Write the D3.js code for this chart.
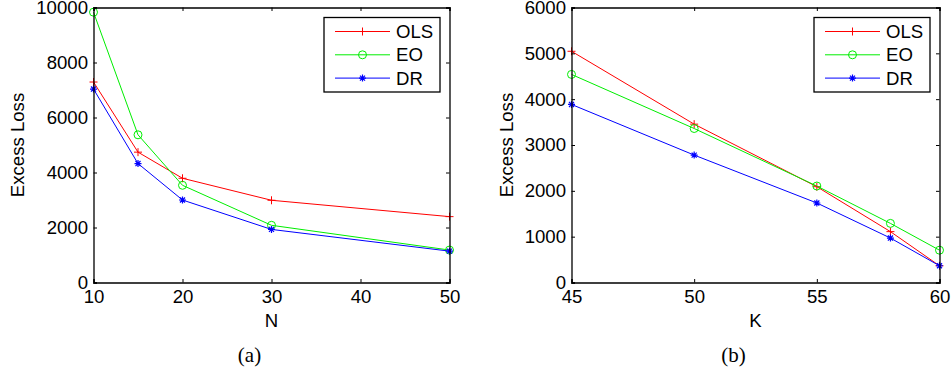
<!DOCTYPE html>
<html><head><meta charset="utf-8">
<script src="https://cdn.jsdelivr.net/npm/d3@7"></script>
<style>body{margin:0;background:#fff}svg{display:block}</style>
</head><body>
<svg id="c" width="952" height="371"></svg>
<script>
// Panel (a): varying N
const nValues = [10, 15, 20, 30, 50];
const olsA = [7290, 4740, 3790, 2990, 2395];
const eoA  = [9830, 5370, 3535, 2080, 1180];
const drA  = [7035, 4325, 3000, 1930, 1140];
const xTicksA = [10, 20, 30, 40, 50];
const yTicksA = [0, 2000, 4000, 6000, 8000, 10000];

// Panel (b): varying K
const kValues = [45, 50, 55, 58, 60];
const olsB = [5045, 3455, 2090, 1110, 365];
const eoB  = [4540, 3360, 2105, 1290, 705];
const drB  = [3885, 2780, 1735, 970, 365];
const xTicksB = [45, 50, 55, 60];
const yTicksB = [0, 1000, 2000, 3000, 4000, 5000, 6000];

const seriesNames = ["OLS", "EO", "DR"];
const seriesColors = ["#ff0000", "#00ee00", "#0000ff"];
const markers = ["plus", "circle", "star"];

const svg = d3.select("#c");
const FONT = "'Liberation Sans', Arial, Helvetica, sans-serif";
const FS = 18.6;

function drawMarker(g, type, x, y, color) {
  if (type === "plus") {
    g.append("path").attr("d", `M${x-4},${y}H${x+4}M${x},${y-4}V${y+4}`)
      .attr("stroke", color).attr("stroke-width", 1).attr("fill", "none");
  } else if (type === "circle") {
    g.append("circle").attr("cx", x).attr("cy", y).attr("r", 4)
      .attr("stroke", color).attr("stroke-width", 1).attr("fill", "none");
  } else {
    const r = 3.5, d = r * 0.72;
    g.append("path").attr("d", `M${x-r},${y}H${x+r}M${x},${y-r}V${y+r}M${x-d},${y-d}L${x+d},${y+d}M${x-d},${y+d}L${x+d},${y-d}`)
      .attr("stroke", color).attr("stroke-width", 1.2).attr("fill", "none");
  }
}

function panel(opts) {
  const {left, right, top, bottom, xDomain, yDomain, xs, ys, xTicks, yTicks, xLabel, caption, yLabelX, legendX} = opts;
  const x = d3.scaleLinear().domain(xDomain).range([left, right]);
  const y = d3.scaleLinear().domain(yDomain).range([bottom, top]);
  const g = svg.append("g");

  // data lines
  ys.forEach((vals, i) => {
    const pts = xs.map((v, j) => [x(v), y(vals[j])]);
    g.append("path").attr("d", d3.line()(pts)).attr("fill", "none")
      .attr("stroke", seriesColors[i]).attr("stroke-width", 1);
    pts.forEach(p => drawMarker(g, markers[i], p[0], p[1], seriesColors[i]));
  });

  // axes
  const ax = (s, t) => g.append("g").attr("transform", t).call(s);
  const tl = 3.5;
  const bottomAx = ax(d3.axisBottom(x).tickValues(xTicks).tickSize(-tl).tickPadding(7).tickFormat(d3.format("d")), `translate(0,${bottom})`);
  const topAx = ax(d3.axisTop(x).tickValues(xTicks).tickSize(-tl).tickFormat(""), `translate(0,${top})`);
  const leftAx = ax(d3.axisLeft(y).tickValues(yTicks).tickSize(-tl).tickPadding(5.5).tickFormat(d3.format("d")), `translate(${left},0)`);
  const rightAx = ax(d3.axisRight(y).tickValues(yTicks).tickSize(-tl).tickFormat(""), `translate(${right},0)`);
  [bottomAx, topAx, leftAx, rightAx].forEach(a => {
    a.select(".domain").attr("stroke", "#000").attr("stroke-width", 1.3);
    a.selectAll(".tick line").attr("stroke", "#000").attr("stroke-width", 1);
    a.selectAll("text").attr("font-family", FONT).attr("font-size", FS).attr("fill", "#000");
  });
  bottomAx.selectAll("text").attr("dy", "0.71em");

  // axis labels
  g.append("text").attr("x", (left + right) / 2).attr("y", 327).attr("text-anchor", "middle")
    .attr("font-family", FONT).attr("font-size", FS).text(xLabel);
  g.append("text").attr("transform", `translate(${yLabelX},${(top + bottom) / 2}) rotate(-90)`)
    .attr("text-anchor", "middle").attr("dy", "0.35em")
    .attr("font-family", FONT).attr("font-size", FS).text("Excess Loss");
  g.append("text").attr("x", (left + right) / 2 - 22).attr("y", 362).attr("text-anchor", "middle")
    .attr("font-family", "'Liberation Serif', 'Times New Roman', serif").attr("font-size", 21).text(caption);

  // legend
  const lg = g.append("g");
  lg.append("rect").attr("x", legendX).attr("y", 17.5).attr("width", 116).attr("height", 74.5)
    .attr("fill", "#fff").attr("stroke", "#000").attr("stroke-width", 1.3);
  seriesNames.forEach((name, i) => {
    const yy = 31.5 + i * 23.3;
    lg.append("line").attr("x1", legendX + 11).attr("x2", legendX + 66).attr("y1", yy).attr("y2", yy)
      .attr("stroke", seriesColors[i]).attr("stroke-width", 1);
    drawMarker(lg, markers[i], legendX + 38.5, yy, seriesColors[i]);
    lg.append("text").attr("x", legendX + 72).attr("y", yy).attr("dy", "0.35em")
      .attr("font-family", FONT).attr("font-size", FS).text(name);
  });
}

panel({left: 93.5, right: 449.5, top: 7.5, bottom: 282.5, xDomain: [10, 50], yDomain: [0, 10000],
  xs: nValues, ys: [olsA, eoA, drA], xTicks: xTicksA, yTicks: yTicksA, xLabel: "N", caption: "(a)",
  yLabelX: 17, legendX: 324});
panel({left: 571.5, right: 939.5, top: 7.5, bottom: 282.5, xDomain: [45, 60], yDomain: [0, 6000],
  xs: kValues, ys: [olsB, eoB, drB], xTicks: xTicksB, yTicks: yTicksB, xLabel: "K", caption: "(b)",
  yLabelX: 506, legendX: 814});
</script>
</body></html>
